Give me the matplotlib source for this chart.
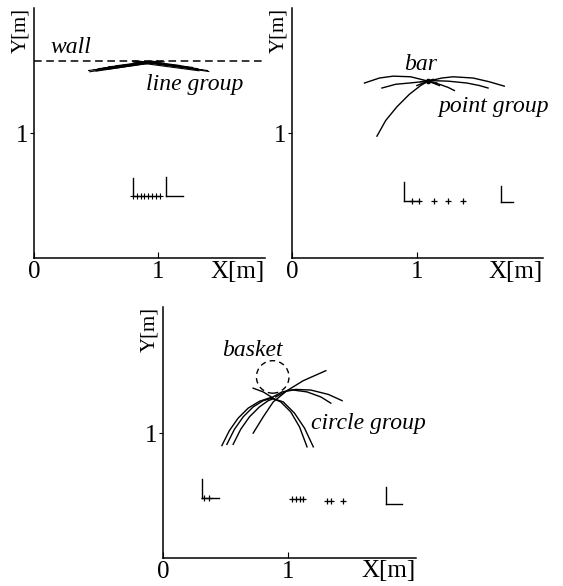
import numpy as np
import matplotlib.pyplot as plt
from matplotlib.patches import Circle

plt.rcParams['font.family'] = ['Liberation Serif', 'DejaVu Serif']

# ---- panel 1: line group touching the wall ----
wall_y = 1.58
# each row: x0, y0, x1, y1 of one fitted line
line_group = [
    (0.44, 1.500, 1.00, 1.576),
    (0.45, 1.490, 0.95, 1.572),
    (0.48, 1.505, 0.98, 1.570),
    (0.50, 1.495, 1.03, 1.574),
    (0.52, 1.515, 1.02, 1.572),
    (0.56, 1.520, 0.96, 1.575),
    (0.58, 1.508, 0.99, 1.566),
    (0.60, 1.530, 1.05, 1.570),
    (0.66, 1.538, 0.94, 1.574),
    (0.80, 1.576, 1.40, 1.500),
    (0.86, 1.574, 1.41, 1.492),
    (0.84, 1.572, 1.36, 1.505),
    (0.80, 1.568, 1.33, 1.498),
    (0.88, 1.570, 1.32, 1.515),
    (0.82, 1.575, 1.28, 1.525),
    (0.90, 1.570, 1.24, 1.530),
    (0.92, 1.574, 1.18, 1.540),
]
p1_frames = [(0.80, 0.50), (1.065, 0.50)]
p1_path_x = [0.80, 0.83, 0.86, 0.89, 0.92, 0.95, 0.98, 1.02]
p1_path_y = [0.50] * len(p1_path_x)

# ---- panel 2: point group around the bar ----
bar_xy = (1.09, 1.415)
point_group = [
    ([0.58, 0.70, 0.81, 0.95, 1.09, 1.18], [1.40, 1.44, 1.455, 1.45, 1.415, 1.38]),
    ([0.72, 0.83, 0.94, 1.09, 1.16], [1.36, 1.39, 1.40, 1.415, 1.40]),
    ([1.00, 1.09, 1.20, 1.29, 1.45, 1.58, 1.70], [1.38, 1.415, 1.44, 1.45, 1.44, 1.41, 1.375]),
    ([1.03, 1.09, 1.25, 1.40, 1.50, 1.57], [1.41, 1.42, 1.415, 1.40, 1.38, 1.36]),
    ([1.09, 1.18, 1.25, 1.30], [1.415, 1.39, 1.365, 1.34]),
    ([0.68, 0.75, 0.84, 0.94, 1.03, 1.09, 1.13], [0.975, 1.10, 1.21, 1.31, 1.38, 1.415, 1.43]),
]
p2_frames = [(0.90, 0.46), (1.67, 0.45)]
p2_path_x = [0.96, 1.02, 1.14, 1.25, 1.37]
p2_path_y = [0.46, 0.46, 0.455, 0.455, 0.455]

# ---- panel 3: circle group around the basket ----
basket_xy = (0.876, 1.45)
basket_r = 0.13
circle_group = [
    ([0.47, 0.53, 0.60, 0.68, 0.77, 0.86, 0.94, 1.02, 1.09, 1.15],
     [0.90, 1.02, 1.12, 1.20, 1.255, 1.285, 1.25, 1.17, 1.05, 0.89]),
    ([0.51, 0.57, 0.64, 0.72, 0.80, 0.87, 0.96, 1.05, 1.13, 1.20],
     [0.91, 1.03, 1.13, 1.21, 1.26, 1.28, 1.25, 1.16, 1.04, 0.89]),
    ([0.56, 0.62, 0.69, 0.77, 0.84, 0.88],
     [0.91, 1.03, 1.13, 1.21, 1.26, 1.275]),
    ([0.72, 0.80, 0.88, 0.99, 1.12, 1.30],
     [1.00, 1.13, 1.25, 1.34, 1.42, 1.50]),
    ([0.86, 0.95, 1.04, 1.15, 1.26, 1.34],
     [1.28, 1.33, 1.345, 1.33, 1.29, 1.24]),
    ([0.90, 0.99, 1.06, 1.18, 1.32, 1.43],
     [1.29, 1.34, 1.35, 1.345, 1.31, 1.26]),
    ([0.72, 0.80, 0.88], [1.36, 1.33, 1.28]),
]
p3_frames = [(0.31, 0.48), (1.78, 0.43)]
p3_path_x = [0.33, 0.37, 1.03, 1.06, 1.09, 1.12, 1.31, 1.34, 1.44]
p3_path_y = [0.48, 0.48, 0.47, 0.47, 0.47, 0.47, 0.46, 0.46, 0.455]

LW = 1.0
FS = 18
FS_ANN = 17
FS_Y = 15


def setup_axes(ax, xmax, ymax, width_px):
    ax.set_xlim(0, xmax)
    ax.set_ylim(0, ymax)
    for s in ['top', 'right']:
        ax.spines[s].set_visible(False)
    for s in ['left', 'bottom']:
        ax.spines[s].set_linewidth(1.1)
    ax.set_xticks([0, 1])
    ax.set_yticks([1])
    ax.tick_params(axis='x', direction='in', length=4, pad=2, labelsize=FS)
    ax.tick_params(axis='y', direction='out', length=3, pad=1, labelsize=FS)
    ax.text(1.0, -0.01, 'X[m]', transform=ax.transAxes, ha='right', va='top', fontsize=FS)
    # y label sits about 13 px left of the axis line
    ax.text(-13.0 / width_px, 1.0, 'Y[m]', transform=ax.transAxes, ha='center', va='top',
            rotation=90, fontsize=FS_Y)


def draw_frame(ax, x, y, up=0.14, right=0.12):
    ax.plot([x, x], [y, y + up], color='black', lw=LW)
    ax.plot([x, x + right], [y, y], color='black', lw=LW)


fig = plt.figure(figsize=(5.63, 5.86), dpi=100)

# panel 1
ax1 = fig.add_axes([0.0604, 0.5597, 0.4103, 0.4266])
setup_axes(ax1, 1.863, 2.0, 231)
ax1.axhline(wall_y, color='black', lw=1.1, ls=(0, (5, 3)))
for x0, y0, x1, y1 in line_group:
    ax1.plot([x0, x1], [y0, y1], color='black', lw=0.8)
ax1.plot(p1_path_x, p1_path_y, color='black', lw=LW, marker='+', ms=4, mew=0.8)
draw_frame(ax1, p1_frames[0][0], p1_frames[0][1], up=0.14, right=0.0)
draw_frame(ax1, p1_frames[1][0], p1_frames[1][1], up=0.15, right=0.135)
ax1.text(0.13, 1.60, 'wall', style='italic', fontsize=FS_ANN, ha='left', va='bottom')
ax1.text(0.90, 1.39, 'line group', style='italic', fontsize=FS_ANN, ha='left', va='center')

# panel 2
ax2 = fig.add_axes([0.5187, 0.5597, 0.4458, 0.4266])
setup_axes(ax2, 2.01, 2.0, 251)
for xs, ys in point_group:
    ax2.plot(xs, ys, color='black', lw=LW)
ax2.plot(*bar_xy, marker='o', color='black', ms=3)
ax2.plot(p2_path_x, p2_path_y, color='black', lw=0, marker='+', ms=4, mew=0.9)
draw_frame(ax2, p2_frames[0][0], p2_frames[0][1], up=0.15, right=0.12)
draw_frame(ax2, p2_frames[1][0], p2_frames[1][1], up=0.13, right=0.10)
ax2.text(1.03, 1.55, 'bar', style='italic', fontsize=FS_ANN, ha='center', va='center')
ax2.text(1.17, 1.21, 'point group', style='italic', fontsize=FS_ANN, ha='left', va='center')

# panel 3
ax3 = fig.add_axes([0.2895, 0.0478, 0.4494, 0.4283])
setup_axes(ax3, 2.02, 2.01, 253)
ax3.add_patch(Circle(basket_xy, basket_r, fill=False, color='black', lw=1.0, ls=(0, (4, 3))))
for xs, ys in circle_group:
    ax3.plot(xs, ys, color='black', lw=LW)
ax3.plot(p3_path_x, p3_path_y, color='black', lw=0, marker='+', ms=4, mew=0.9)
draw_frame(ax3, p3_frames[0][0], p3_frames[0][1], up=0.15, right=0.14)
draw_frame(ax3, p3_frames[1][0], p3_frames[1][1], up=0.14, right=0.13)
ax3.text(0.47, 1.66, 'basket', style='italic', fontsize=FS_ANN, ha='left', va='center')
ax3.text(1.18, 1.08, 'circle group', style='italic', fontsize=FS_ANN, ha='left', va='center')

fig.savefig('out.png', dpi=100)
